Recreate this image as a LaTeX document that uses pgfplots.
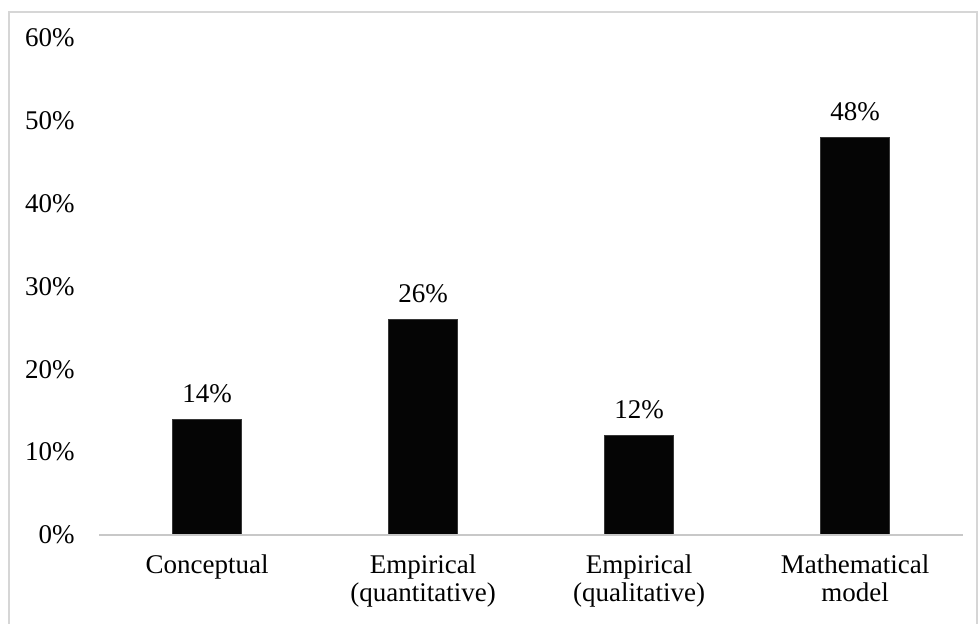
\documentclass[border=0pt]{standalone}
\usepackage{fontspec}
\setmainfont{Liberation Serif}
\usepackage{pgfplots}
\pgfplotsset{compat=1.18}
\definecolor{framegray}{RGB}{214,214,214}
\definecolor{axisgray}{RGB}{200,200,200}
\definecolor{barblack}{RGB}{5,5,5}
\newcommand{\lblfont}{\fontsize{13.5}{14.2}\selectfont}
\begin{document}
\begin{tikzpicture}
\useasboundingbox (0pt,0pt) rectangle (489pt,-312pt);
\draw[framegray, line width=1pt] (4.5pt,-330pt) -- (4.5pt,-6pt) -- (488.6pt,-6pt) -- (488.6pt,-330pt);
\begin{axis}[
  at={(49.5pt,-267.5pt)}, anchor=south west,
  scale only axis, width=432pt, height=248.5pt,
  xmin=-0.5, xmax=3.5, ymin=0, ymax=60,
  ybar, bar width=34.5pt,
  axis line style={draw=none},
  major tick length=0pt,
  /pgf/number format/assume math mode=true,
  xtick=data,
  xticklabels={Conceptual, Empirical\\(quantitative), Empirical\\(qualitative), Mathematical\\model},
  ytick={0,10,20,30,40,50,60},
  yticklabel={\lblfont\pgfmathprintnumber{\tick}\%},
  xticklabel style={font=\lblfont, align=center, anchor=north, inner sep=0pt, yshift=-9.5pt},
  yticklabel style={font=\lblfont, anchor=east, inner sep=0pt, xshift=-12pt},
  point meta=explicit symbolic,
  nodes near coords,
  every node near coord/.append style={font=\lblfont, anchor=south, inner sep=0pt, yshift=8pt},
  clip=false,
]
\addplot[fill=barblack, draw=barblack!80!white, line width=0.4pt] coordinates {(0,14) [14\%] (1,26) [26\%] (2,12) [12\%] (3,48) [48\%]};
\draw[axisgray, line width=0.8pt] (axis cs:-0.5,0) -- (axis cs:3.5,0);
\end{axis}
\end{tikzpicture}
\end{document}
